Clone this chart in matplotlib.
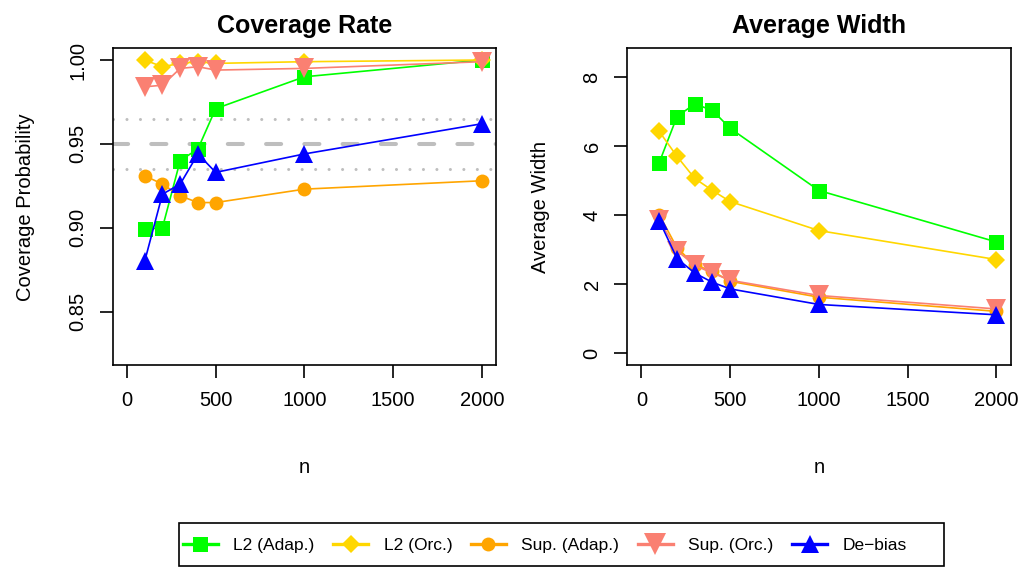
import numpy as np
import matplotlib.pyplot as plt
from matplotlib.patches import Rectangle

plt.rcParams['font.family'] = ['Liberation Sans', 'DejaVu Sans']

# sample sizes
n = [100, 200, 300, 400, 500, 1000, 2000]

# coverage rate per method
cov_l2_adap = [0.899, 0.900, 0.940, 0.947, 0.971, 0.990, 1.000]
cov_l2_orc = [1.000, 0.996, 0.998, 0.999, 0.998, 0.999, 1.000]
cov_sup_adap = [0.931, 0.926, 0.919, 0.915, 0.915, 0.923, 0.928]
cov_sup_orc = [0.984, 0.985, 0.995, 0.996, 0.994, 0.995, 0.999]
cov_debias = [0.880, 0.920, 0.926, 0.944, 0.933, 0.944, 0.962]

# average width per method
wid_l2_adap = [5.53, 6.86, 7.23, 7.04, 6.52, 4.72, 3.23]
wid_l2_orc = [6.43, 5.71, 5.07, 4.72, 4.40, 3.56, 2.72]
wid_sup_adap = [4.02, 3.06, 2.57, 2.38, 2.09, 1.63, 1.22]
wid_sup_orc = [3.87, 2.98, 2.55, 2.33, 2.12, 1.68, 1.29]
wid_debias = [3.85, 2.75, 2.33, 2.06, 1.87, 1.42, 1.12]

labels = ['L2 (Adap.)', 'L2 (Orc.)', 'Sup. (Adap.)', 'Sup. (Orc.)', 'De\u2212bias']
nominal = 0.95
band = 0.015

colors = ['#00FF00', '#FFD700', '#FFA500', '#FA8072', '#0000FF']
markers = ['s', 'D', 'o', 'v', '^']
msizes = [10.8, 9.2, 10.0, 14.4, 13.0]


def r_lim(lo, hi):
    # R style 4% padding
    pad = 0.04 * (hi - lo)
    return lo - pad, hi + pad


fig = plt.figure(figsize=(10.25, 5.68), dpi=100)
ax1 = fig.add_axes([0.110, 0.357, 0.374, 0.558])
ax2 = fig.add_axes([0.612, 0.357, 0.374, 0.558])

# reference lines for coverage
ax1.axhline(nominal, color='#BEBEBE', lw=2.9, linestyle=(0, (3.75, 5.75)),
            dash_capstyle='round', zorder=1)
for h in [nominal - band, nominal + band]:
    ax1.axhline(h, color='#BEBEBE', lw=2.2, linestyle=(0, (0.01, 4.4)),
                dash_capstyle='round', zorder=1)

cov = [cov_l2_adap, cov_l2_orc, cov_sup_adap, cov_sup_orc, cov_debias]
wid = [wid_l2_adap, wid_l2_orc, wid_sup_adap, wid_sup_orc, wid_debias]

handles = []
for i in range(5):
    h, = ax1.plot(n, cov[i], color=colors[i], marker=markers[i], ms=msizes[i],
                  mew=0, lw=1.2, zorder=2 + i)
    ax2.plot(n, wid[i], color=colors[i], marker=markers[i], ms=msizes[i],
             mew=0, lw=1.2, zorder=2 + i)
    handles.append(h)

ax1.set_xlim(r_lim(0, 2000))
ax1.set_ylim(r_lim(0.825, 1.0))
ax2.set_xlim(r_lim(0, 2000))
ax2.set_ylim(r_lim(0, 8.5))

xt = [0, 500, 1000, 1500, 2000]
ax1.set_xticks(xt, [str(v) for v in xt])
ax2.set_xticks(xt, [str(v) for v in xt])
yt1 = [0.85, 0.90, 0.95, 1.00]
ax1.set_yticks(yt1, ['%.2f' % v for v in yt1], rotation=90, va='center')
yt2 = [0, 2, 4, 6, 8]
ax2.set_yticks(yt2, [str(v) for v in yt2], rotation=90, va='center')

for ax, title, ylab in [(ax1, 'Coverage Rate', 'Coverage Probability'),
                        (ax2, 'Average Width', 'Average Width')]:
    for s in ax.spines.values():
        s.set_linewidth(1.2)
    ax.tick_params(direction='out', length=9.5, width=1.2, labelsize=14.5, pad=9)
    ax.set_title(title, fontsize=18, fontweight='bold', pad=11)
    ax.set_xlabel('n', fontsize=14.5, va='baseline')
    ax.xaxis.set_label_coords(0.5, -0.34)
    ax.set_ylabel(ylab, fontsize=14.5, va='baseline')
    ax.yaxis.set_label_coords(-0.213, 0.5)

# legend at the bottom, R style box
fig.patches.append(Rectangle((179 / 1025, 1 - 566 / 568), 765 / 1025, 43 / 568,
                             transform=fig.transFigure, fill=False,
                             edgecolor='black', lw=1.2))
leg = fig.legend(handles, labels, loc='center left',
                 bbox_to_anchor=(183 / 1025, 1 - 545 / 568), ncol=5,
                 frameon=False, fontsize=12.5, handlelength=2.0,
                 handletextpad=0.9, columnspacing=1.08, borderpad=0,
                 borderaxespad=0)
for lh in leg.legend_handles:
    lh.set_linewidth(2.4)
leg.legend_handles[3].set_markersize(16)

fig.savefig('out.png', dpi=100)
